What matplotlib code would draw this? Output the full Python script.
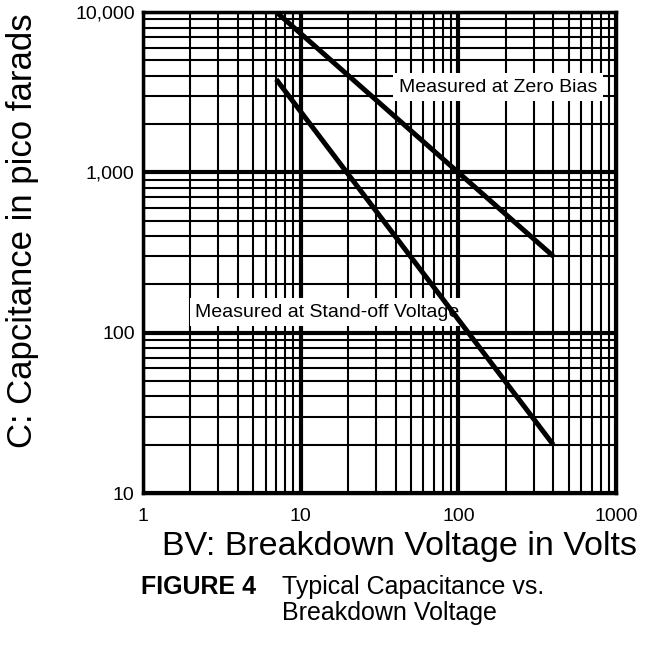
import matplotlib
matplotlib.use("Agg")
import matplotlib.pyplot as plt
from matplotlib.ticker import FixedLocator, LogLocator, NullFormatter

plt.rcParams['font.family'] = ['Liberation Sans', 'DejaVu Sans']

# Data
zero_bias_v = [7.0, 400.0]
zero_bias_c = [10000.0, 300.0]
standoff_v = [7.0, 400.0]
standoff_c = [3800.0, 20.0]

x_ticks = [1, 10, 100, 1000]
x_ticklabels = ["1", "10", "100", "1000"]
y_ticks = [10, 100, 1000, 10000]
y_ticklabels = ["10", "100", "1,000", "10,000"]

fig = plt.figure(figsize=(6.56, 6.46), dpi=100)
W, H = 656, 646
left, right, top, bottom = 143, 616, 12, 493
ax = fig.add_axes([left / W, 1 - bottom / H, (right - left) / W, (bottom - top) / H])

ax.set_xscale('log')
ax.set_yscale('log')
ax.set_xlim(1, 1000)
ax.set_ylim(10, 10000)

ax.xaxis.set_major_locator(FixedLocator(x_ticks))
ax.yaxis.set_major_locator(FixedLocator(y_ticks))
ax.xaxis.set_minor_locator(LogLocator(base=10, subs=range(2, 10)))
ax.yaxis.set_minor_locator(LogLocator(base=10, subs=range(2, 10)))
ax.xaxis.set_minor_formatter(NullFormatter())
ax.yaxis.set_minor_formatter(NullFormatter())
ax.set_xticklabels(x_ticklabels, fontsize=14)
ax.set_yticklabels(y_ticklabels, fontsize=14)
ax.tick_params(which='both', length=0)
ax.tick_params(axis='x', pad=11)
ax.tick_params(axis='y', pad=6)

ax.grid(which='major', color='black', linewidth=3.0, zorder=1)
ax.grid(which='minor', color='black', linewidth=1.5, zorder=1)
ax.set_axisbelow(True)
for s in ax.spines.values():
    s.set_linewidth(2.5)
    s.set_zorder(5)

ax.plot(zero_bias_v, zero_bias_c, color='black', linewidth=3.6,
        solid_capstyle='butt', zorder=4)
ax.plot(standoff_v, standoff_c, color='black', linewidth=3.6,
        solid_capstyle='butt', zorder=4)

ax.text(178, 3400, "Measured at Zero Bias", fontsize=14, ha='center', va='center',
        zorder=3, bbox=dict(facecolor='white', edgecolor='none', pad=4))
ax.text(14.8, 134, "Measured at Stand-off Voltage", fontsize=14, ha='center',
        va='center', zorder=3,
        bbox=dict(facecolor='white', edgecolor='none', pad=4))

fig.text(23 / W, 1 - 231 / H, "C: Capcitance in pico farads", rotation=90,
         fontsize=25, ha='center', va='center')
fig.text(399 / W, 1 - 546 / H, "BV: Breakdown Voltage in Volts", fontsize=24.5,
         ha='center', va='center')
fig.text(141 / W, 1 - 587 / H, "FIGURE 4", fontsize=18, fontweight='bold',
         ha='left', va='center')
fig.text(282 / W, 1 - 587 / H, "Typical Capacitance vs.", fontsize=18,
         ha='left', va='center')
fig.text(282 / W, 1 - 613 / H, "Breakdown Voltage", fontsize=18,
         ha='left', va='center')

fig.savefig("out.png", dpi=100, facecolor='white')
